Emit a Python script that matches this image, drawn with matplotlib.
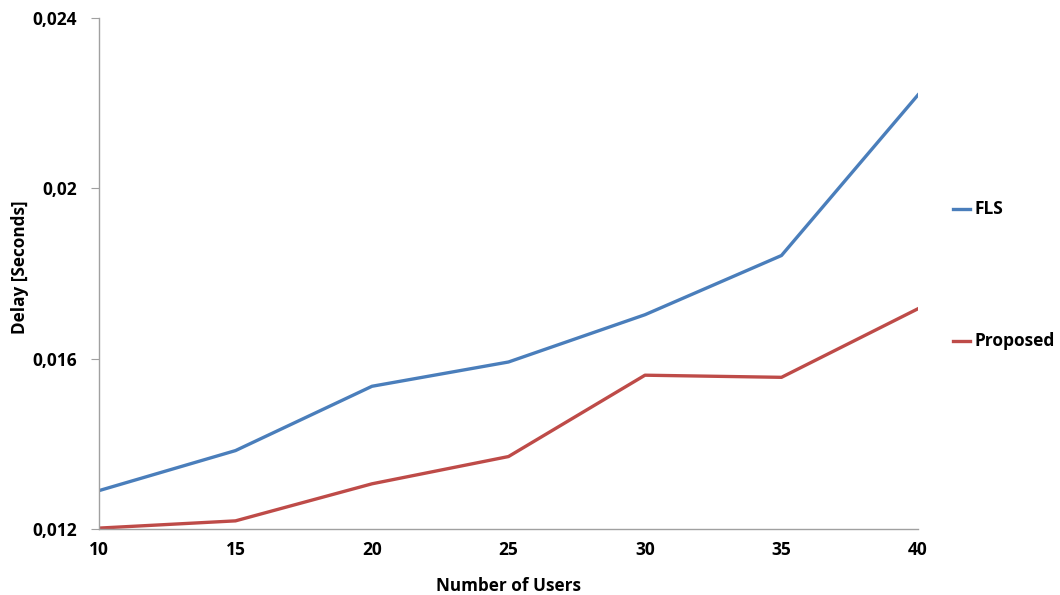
import matplotlib.pyplot as plt
from matplotlib.ticker import FuncFormatter
from matplotlib.lines import Line2D

plt.rcParams['font.family'] = ['Open Sans', 'DejaVu Sans']
plt.rcParams['font.weight'] = 'bold'

users = [10, 15, 20, 25, 30, 35, 40]
fls = [0.01290, 0.01384, 0.01535, 0.01592, 0.01703, 0.01842, 0.02219]
proposed = [0.01202, 0.01219, 0.01306, 0.01370, 0.01561, 0.01556, 0.01717]
y_ticks = [0.012, 0.016, 0.020, 0.024]

blue = '#4A7EBB'
red = '#BE4B48'
axis_grey = '#A0A0A0'

fig = plt.figure(figsize=(10.6, 5.95), dpi=100)
ax = fig.add_axes([0.0934, 0.111, 0.7726, 0.859])

ax.plot(users, fls, color=blue, linewidth=2.4, solid_joinstyle='round')
ax.plot(users, proposed, color=red, linewidth=2.4, solid_joinstyle='round')

ax.set_xlim(10, 40)
ax.set_ylim(0.012, 0.024)
ax.set_xticks(users)
ax.set_yticks(y_ticks)
ax.yaxis.set_major_formatter(FuncFormatter(lambda v, p: f'{v:g}'.replace('.', ',')))

for s in ['top', 'right']:
    ax.spines[s].set_visible(False)
for s in ['left', 'bottom']:
    ax.spines[s].set_color(axis_grey)
    ax.spines[s].set_linewidth(1)

ax.tick_params(axis='y', direction='out', length=6, color=axis_grey, labelsize=12.5, pad=10)
ax.tick_params(axis='x', length=0, labelsize=12.5, pad=9)

ax.set_xlabel('Number of Users', fontsize=12.3, fontweight='bold')
ax.set_ylabel('Delay [Seconds]', fontsize=12.3, fontweight='bold')
ax.xaxis.set_label_coords(0.5, -0.094)
ax.yaxis.set_label_coords(-0.086, 0.513)

# legend drawn at the right like the Excel one
for label, color, yfig in [('FLS', blue, 1 - 209 / 595), ('Proposed', red, 1 - 341 / 595)]:
    fig.add_artist(Line2D([953 / 1060, 970 / 1060], [yfig, yfig], color=color, linewidth=2.4,
                          transform=fig.transFigure))
    fig.text(974 / 1060, yfig, label, fontsize=12.5, fontweight='bold', va='center', ha='left')

fig.savefig('out.png', dpi=100, facecolor='white')
